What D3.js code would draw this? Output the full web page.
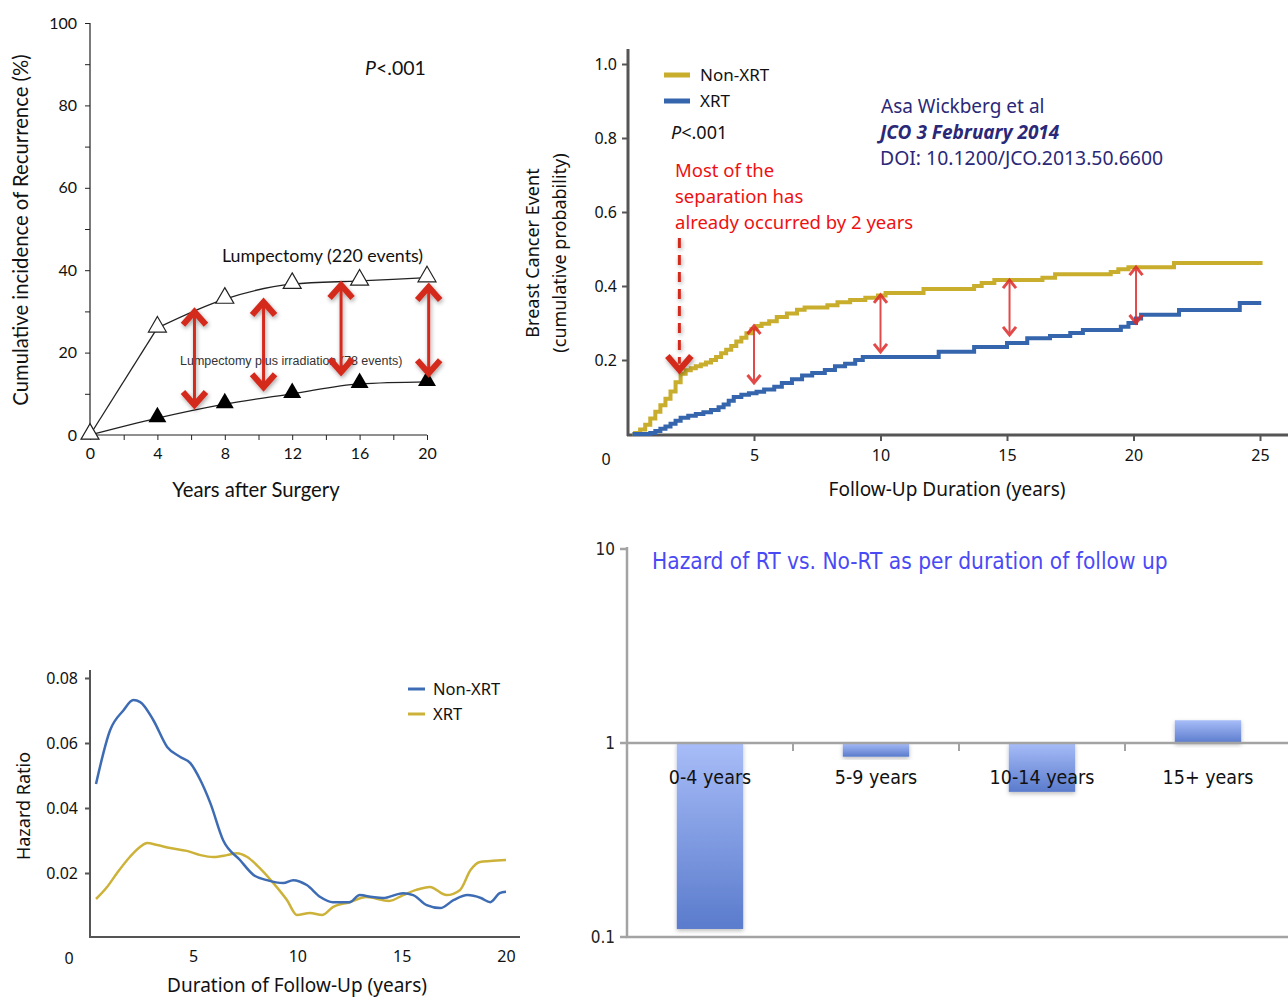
<!DOCTYPE html>
<html><head><meta charset="utf-8">
<script src="https://cdn.jsdelivr.net/npm/d3@7/dist/d3.min.js"></script>
<style>body{margin:0;background:#fff} svg{display:block}</style>
</head><body><svg id="c" width="1288" height="998"></svg>
<script>
// ---------- Panel A: cumulative incidence ----------
const yearsA = [0, 4, 8, 12, 16, 20];
const lumpectomy = [0, 26, 33, 36.6, 37.4, 38.2];
const lumpIrradiation = [0, 4.1, 7.5, 10, 12.4, 12.9];
const arrowYearsA = [6.2, 10.3, 14.9, 20.1];
const arrowTopA = [29.9, 32.3, 36.4, 35.9];
const arrowBottomA = [7.3, 11.6, 15.3, 15.0];
const yTicksA = [0, 20, 40, 60, 80, 100];
const xTicksA = [0, 4, 8, 12, 16, 20];

// ---------- Panel B: Kaplan-Meier style steps ----------
const kmNonXrtT = [0.2,0.3,0.5,0.7,0.9,1.1,1.3,1.5,1.7,1.9,2.1,2.3,2.5,2.7,2.9,3.1,3.3,3.5,3.7,3.9,4.1,4.3,4.5,4.7,4.9,5.1,5.3,5.6,5.9,6.3,6.7,7.0,7.9,8.3,8.8,9.4,9.9,10.2,11.7,13.7,14.0,14.5,16.4,16.9,19.1,19.4,19.8,21.6,25.1];
const kmNonXrtV = [0,0.003,0.012,0.025,0.042,0.06,0.078,0.095,0.115,0.14,0.163,0.172,0.178,0.183,0.188,0.193,0.2,0.208,0.218,0.228,0.238,0.25,0.26,0.272,0.283,0.292,0.298,0.305,0.316,0.326,0.336,0.342,0.348,0.356,0.362,0.368,0.374,0.381,0.392,0.4,0.408,0.416,0.422,0.432,0.438,0.445,0.451,0.462,0.462];
const kmXrtT = [0.2,0.9,1.1,1.3,1.5,1.7,1.9,2.1,2.4,2.7,3.0,3.3,3.6,3.8,4.0,4.2,4.5,4.8,5.1,5.4,5.8,6.1,6.5,6.9,7.3,7.8,8.2,8.6,9.0,9.3,12.3,13.7,15.0,15.8,16.7,17.5,18.0,19.5,19.8,20.1,20.3,21.8,24.2,25.05];
const kmXrtV = [0,0.003,0.008,0.014,0.02,0.028,0.036,0.044,0.049,0.054,0.059,0.065,0.072,0.08,0.09,0.1,0.106,0.11,0.114,0.12,0.128,0.138,0.148,0.158,0.165,0.173,0.183,0.19,0.2,0.208,0.222,0.235,0.246,0.259,0.265,0.273,0.281,0.29,0.3,0.312,0.322,0.335,0.354,0.354];
const arrowYearsB = [5, 10, 15.1, 20.1];
const arrowTopB = [0.292, 0.376, 0.416, 0.451];
const arrowBottomB = [0.138, 0.222, 0.268, 0.3];
const yTicksB = [0.2, 0.4, 0.6, 0.8, 1.0];
const xTicksB = [5, 10, 15, 20, 25];

// ---------- Panel C: hazard curves ----------
const hazNonXrtT = [0.35,1.03,1.66,2.14,2.47,3.1,3.76,4.39,4.87,5.35,5.83,6.45,7.25,7.9,8.54,9.33,9.8,10.45,11.1,11.7,12.5,12.99,13.6,14.1,15.07,15.55,16.2,16.85,17.5,18.15,18.8,19.25,19.7,20.0];
const hazNonXrtV = [0.0474,0.064,0.070,0.0732,0.0726,0.067,0.0588,0.0557,0.0538,0.0486,0.0415,0.030,0.024,0.0194,0.0178,0.0169,0.0178,0.0163,0.0126,0.011,0.011,0.0132,0.0126,0.0123,0.0138,0.0132,0.0101,0.0092,0.0117,0.0132,0.0123,0.011,0.0138,0.0142];
const hazXrtT = [0.35,0.88,1.36,1.98,2.46,2.8,3.28,3.9,4.7,5.35,5.98,6.63,7.1,7.58,8.2,8.85,9.5,9.98,10.6,11.2,11.7,12.5,13.3,14.4,15.07,15.7,16.35,17.15,17.8,18.3,18.75,19.25,20.0];
const hazXrtV = [0.012,0.0157,0.020,0.025,0.028,0.0292,0.0286,0.0277,0.0268,0.0255,0.0249,0.0255,0.0261,0.025,0.0215,0.0169,0.0117,0.0071,0.0077,0.0071,0.0095,0.011,0.0126,0.0114,0.0132,0.0148,0.0157,0.0132,0.0148,0.0209,0.0234,0.0237,0.024];
const yTicksC = [0.02, 0.04, 0.06, 0.08];
const xTicksC = [5, 10, 15, 20];

// ---------- Panel D: hazard ratio bars ----------
const categoriesD = ["0-4 years", "5-9 years", "10-14 years", "15+ years"];
const hazardRatioD = [0.11, 0.85, 0.56, 1.31];
const yTicksD = [0.1, 1, 10];

const svg = d3.select("#c");
const defs = svg.append("defs");
const sh = defs.append("filter").attr("id","shadow").attr("x","-50%").attr("y","-50%").attr("width","200%").attr("height","200%");
sh.append("feDropShadow").attr("dx",1).attr("dy",2).attr("stdDeviation",2).attr("flood-color","#000").attr("flood-opacity",0.35);
const barSh = defs.append("filter").attr("id","barshadow").attr("x","-20%").attr("y","-20%").attr("width","140%").attr("height","140%");
barSh.append("feDropShadow").attr("dx",0).attr("dy",2).attr("stdDeviation",2).attr("flood-color","#000").attr("flood-opacity",0.25);
const grad = defs.append("linearGradient").attr("id","barGrad").attr("x1",0).attr("y1",0).attr("x2",0).attr("y2",1);
grad.append("stop").attr("offset","0%").attr("stop-color","#a8bdf8");
grad.append("stop").attr("offset","100%").attr("stop-color","#5a7bcc");
defs.append("clipPath").attr("id","clipA").append("rect").attr("x",0).attr("y",0).attr("width",414).attr("height",998);

function chevrons(g, x, y1, y2, w, h, color, lw, hw) {
  g.append("line").attr("x1",x).attr("x2",x).attr("y1",y1+2).attr("y2",y2-2)
    .attr("stroke",color).attr("stroke-width",lw);
  g.append("polyline").attr("points",[[x-w,y1+h],[x,y1],[x+w,y1+h]].join(" "))
    .attr("fill","none").attr("stroke",color).attr("stroke-width",hw).attr("stroke-linejoin","miter");
  g.append("polyline").attr("points",[[x-w,y2-h],[x,y2],[x+w,y2-h]].join(" "))
    .attr("fill","none").attr("stroke",color).attr("stroke-width",hw).attr("stroke-linejoin","miter");
}

// ================= PANEL A =================
{
  const fA = "Lato, 'Open Sans', sans-serif";
  const xA = d3.scaleLinear().domain([0,20]).range([90,427]);
  const yA = d3.scaleLinear().domain([0,100]).range([435,23]);
  const g = svg.append("g");
  const ay = g.append("g").attr("transform","translate(90,0)")
    .call(d3.axisLeft(yA).tickValues(d3.range(0,101,10)).tickSize(5).tickPadding(8)
      .tickFormat(d => yTicksA.includes(d) ? d : ""));
  const ax = g.append("g").attr("transform","translate(0,435)")
    .call(d3.axisBottom(xA).tickValues(d3.range(0,21,2)).tickSize(5).tickPadding(8)
      .tickFormat(d => xTicksA.includes(d) ? d : ""));
  [ay, ax].forEach(a => {
    a.selectAll("path.domain").attr("stroke","#222").attr("stroke-width",1.2);
    a.selectAll("line").attr("stroke","#222");
    a.selectAll("text").attr("font-family",fA).attr("font-size",16).attr("fill","#111");
  });
  ay.select("path.domain").attr("d","M0,23V435");
  ax.select("path.domain").attr("d","M90,0H427");

  g.append("text").attr("transform","translate(28,230) rotate(-90)").attr("text-anchor","middle")
    .attr("font-family",fA).attr("font-size",20.3).attr("fill","#111").text("Cumulative incidence of Recurrence (%)");
  g.append("text").attr("x",256).attr("y",497).attr("text-anchor","middle")
    .attr("font-family",fA).attr("font-size",20.3).attr("fill","#111").text("Years after Surgery");
  const p = g.append("text").attr("x",365).attr("y",75).attr("font-family",fA).attr("font-size",19.5).attr("fill","#111");
  p.append("tspan").attr("font-style","italic").text("P");
  p.append("tspan").text("<.001");

  const pts = arr => arr.map((d,i) => [xA(yearsA[i]), yA(d)]);
  const lin = d3.line();
  const smooth = d3.line().curve(d3.curveMonotoneX);
  const lp = pts(lumpectomy);
  g.append("path").attr("d",lin(lp.slice(0,2))).attr("fill","none").attr("stroke","#222").attr("stroke-width",1.3);
  g.append("path").attr("d",smooth(lp.slice(1))).attr("fill","none").attr("stroke","#222").attr("stroke-width",1.3);
  g.append("path").attr("d",smooth(pts(lumpIrradiation))).attr("fill","none").attr("stroke","#222").attr("stroke-width",1.3);
  const tri = d3.symbol().type(d3.symbolTriangle).size(140);
  g.selectAll(".ft").data(lumpIrradiation).join("path")
    .attr("transform",(d,i)=>`translate(${xA(yearsA[i])},${yA(d)-1})`).attr("d",tri).attr("fill","#000");
  g.selectAll(".ot").data(lumpectomy).join("path")
    .attr("transform",(d,i)=>`translate(${xA(yearsA[i])},${yA(d)-1})`).attr("d",tri)
    .attr("fill","#fff").attr("stroke","#222").attr("stroke-width",1.2);

  g.append("text").attr("x",222).attr("y",262).attr("font-family",fA).attr("font-size",17.8).attr("fill","#111")
    .text("Lumpectomy (220 events)");
  g.append("text").attr("x",180).attr("y",365).attr("clip-path","url(#clipA)")
    .attr("font-family","'Liberation Sans', Arial, sans-serif").attr("font-size",12.5).attr("fill","#333")
    .text("Lumpectomy plus irradiation (78 events)");

  const arr = g.append("g").attr("filter","url(#shadow)");
  arrowYearsA.forEach((yr,i) => {
    const ag = arr.append("g");
    chevrons(ag, xA(yr), yA(arrowTopA[i]), yA(arrowBottomA[i]), 11.5, 13, "#d42a1f", 3, 6);
  });
}

// ================= PANEL B =================
{
  const fB = "'Noto Sans', 'Open Sans', sans-serif";
  const xB = d3.scaleLinear().domain([0,25]).range([627.5,1260]);
  const yB = d3.scaleLinear().domain([0,1]).range([434,64]);
  const g = svg.append("g");
  const ay = g.append("g").attr("transform","translate(628,0)")
    .call(d3.axisLeft(yB).tickValues(yTicksB).tickSize(6).tickPadding(5).tickFormat(d3.format(".1f")));
  const ax = g.append("g").attr("transform","translate(0,435)")
    .call(d3.axisBottom(xB).tickValues(xTicksB).tickSize(6).tickPadding(9));
  [ay, ax].forEach(a => {
    a.selectAll("path.domain").remove();
    a.selectAll("line").attr("stroke","#555").attr("stroke-width",2);
    a.selectAll("text").attr("font-family",fB).attr("font-size",16).attr("fill","#111");
  });
  g.append("line").attr("x1",628).attr("x2",628).attr("y1",49).attr("y2",436).attr("stroke","#555").attr("stroke-width",3);
  g.append("line").attr("x1",627).attr("x2",1288).attr("y1",435).attr("y2",435).attr("stroke","#555").attr("stroke-width",3);
  g.append("text").attr("x",606).attr("y",465).attr("text-anchor","middle").attr("font-family",fB).attr("font-size",16).attr("fill","#111").text("0");

  g.append("text").attr("transform","translate(539,253) rotate(-90)").attr("text-anchor","middle")
    .attr("font-family",fB).attr("font-size",18).attr("fill","#111").text("Breast Cancer Event");
  g.append("text").attr("transform","translate(566,253) rotate(-90)").attr("text-anchor","middle")
    .attr("font-family",fB).attr("font-size",18).attr("fill","#111").text("(cumulative probability)");
  g.append("text").attr("x",947).attr("y",496).attr("text-anchor","middle")
    .attr("font-family",fB).attr("font-size",19).attr("fill","#111").text("Follow-Up Duration (years)");

  const step = d3.line().curve(d3.curveStepAfter);
  const gold = "#c9ad2c", blue = "#3465ad";
  g.append("path").attr("d",step(kmNonXrtT.map((t,i)=>[xB(t),yB(kmNonXrtV[i])])))
    .attr("fill","none").attr("stroke",gold).attr("stroke-width",4);
  g.append("path").attr("d",step(kmXrtT.map((t,i)=>[xB(t),yB(kmXrtV[i])])))
    .attr("fill","none").attr("stroke",blue).attr("stroke-width",4);

  [["Non-XRT",gold,75],["XRT",blue,101]].forEach(([lab,c,y]) => {
    g.append("line").attr("x1",664).attr("x2",690).attr("y1",y).attr("y2",y).attr("stroke",c).attr("stroke-width",5);
    g.append("text").attr("x",700).attr("y",y+6).attr("font-family",fB).attr("font-size",17).attr("fill","#111").text(lab);
  });
  const p = g.append("text").attr("x",671).attr("y",139).attr("font-family",fB).attr("font-size",18).attr("fill","#111");
  p.append("tspan").attr("font-style","italic").text("P");
  p.append("tspan").text("<.001");

  ["Most of the","separation has","already occurred by 2 years"].forEach((t,i) => {
    g.append("text").attr("x",675).attr("y",177+i*26).attr("font-family",fB).attr("font-size",18.5).attr("fill","#ee1111").text(t);
  });
  const navy = "#2b2878";
  g.append("text").attr("x",881).attr("y",113).attr("font-family",fB).attr("font-size",19).attr("fill",navy).text("Asa Wickberg et al");
  g.append("text").attr("x",880).attr("y",139).attr("font-family",fB).attr("font-size",19).attr("font-weight","bold").attr("font-style","italic").attr("fill",navy).text("JCO 3 February 2014");
  g.append("text").attr("x",880).attr("y",165).attr("font-family",fB).attr("font-size",19.4).attr("fill",navy).text("DOI: 10.1200/JCO.2013.50.6600");

  arrowYearsB.forEach((yr,i) => {
    chevrons(g.append("g").attr("opacity",0.85), xB(yr), yB(arrowTopB[i]), yB(arrowBottomB[i]), 6.5, 8, "#dd2a2a", 2, 3);
  });
  const dx = xB(2.05);
  const da = g.append("g").attr("filter","url(#shadow)");
  da.append("line").attr("x1",dx).attr("x2",dx).attr("y1",yB(0.53)).attr("y2",yB(0.19))
    .attr("stroke","#d42a1f").attr("stroke-width",3).attr("stroke-dasharray","10,7");
  da.append("polyline").attr("points",[[dx-12,yB(0.173)-14],[dx,yB(0.173)],[dx+12,yB(0.173)-14]].join(" "))
    .attr("fill","none").attr("stroke","#d42a1f").attr("stroke-width",6);
}

// ================= PANEL C =================
{
  const fC = "'Noto Sans', 'Open Sans', sans-serif";
  const xC = d3.scaleLinear().domain([0,20]).range([88.7,506]);
  const yC = d3.scaleLinear().domain([0,0.08]).range([938,678]);
  const g = svg.append("g");
  const ay = g.append("g").attr("transform","translate(90,0)")
    .call(d3.axisLeft(yC).tickValues(yTicksC).tickSize(5).tickPadding(7).tickFormat(d3.format(".2f")));
  const ax = g.append("g").attr("transform","translate(0,937)")
    .call(d3.axisBottom(xC).tickValues(xTicksC).tickSize(0).tickPadding(14));
  [ay, ax].forEach(a => {
    a.selectAll("path.domain").remove();
    a.selectAll("line").attr("stroke","#555").attr("stroke-width",2);
    a.selectAll("text").attr("font-family",fC).attr("font-size",16).attr("fill","#111");
  });
  g.append("line").attr("x1",90).attr("x2",90).attr("y1",670).attr("y2",938).attr("stroke","#555").attr("stroke-width",2);
  g.append("line").attr("x1",89).attr("x2",520).attr("y1",937).attr("y2",937).attr("stroke","#555").attr("stroke-width",2);
  g.append("text").attr("x",69).attr("y",964).attr("text-anchor","middle").attr("font-family",fC).attr("font-size",16).attr("fill","#111").text("0");
  g.append("text").attr("transform","translate(30,806) rotate(-90)").attr("text-anchor","middle")
    .attr("font-family",fC).attr("font-size",18).attr("fill","#111").text("Hazard Ratio");
  g.append("text").attr("x",297).attr("y",992).attr("text-anchor","middle")
    .attr("font-family",fC).attr("font-size",19).attr("fill","#111").text("Duration of Follow-Up (years)");

  const blue = "#3d6cb4", gold = "#cdb23a";
  const ln = d3.line().curve(d3.curveMonotoneX);
  g.append("path").attr("d",ln(hazXrtT.map((t,i)=>[xC(t),yC(hazXrtV[i])]))).attr("fill","none").attr("stroke",gold).attr("stroke-width",2.5);
  g.append("path").attr("d",ln(hazNonXrtT.map((t,i)=>[xC(t),yC(hazNonXrtV[i])]))).attr("fill","none").attr("stroke",blue).attr("stroke-width",2.5);
  [["Non-XRT",blue,689],["XRT",gold,714]].forEach(([lab,c,y]) => {
    g.append("line").attr("x1",408).attr("x2",425).attr("y1",y).attr("y2",y).attr("stroke",c).attr("stroke-width",3);
    g.append("text").attr("x",433).attr("y",y+6).attr("font-family",fC).attr("font-size",16.5).attr("fill","#111").text(lab);
  });
}

// ================= PANEL D =================
{
  const fD = "'Liberation Sans Narrow', 'DejaVu Sans Condensed', 'Noto Sans', sans-serif";
  const xD = d3.scaleBand().domain(categoriesD).range([627,1291]).paddingInner(0.6).paddingOuter(0.3);
  const yD = d3.scaleLog().domain([0.1,10]).range([937,549]);
  const g = svg.append("g");
  const axC = "#a3a3a3";
  g.append("line").attr("x1",627).attr("x2",627).attr("y1",547).attr("y2",938).attr("stroke",axC).attr("stroke-width",2.5);
  g.append("line").attr("x1",626).attr("x2",1288).attr("y1",937).attr("y2",937).attr("stroke",axC).attr("stroke-width",2.5);
  yTicksD.forEach(v => {
    g.append("line").attr("x1",620).attr("x2",627).attr("y1",yD(v)).attr("y2",yD(v)).attr("stroke",axC).attr("stroke-width",2.5);
    g.append("text").attr("x",615).attr("y",yD(v)+6).attr("text-anchor","end").attr("font-family",fD)
      .attr("font-size",17).attr("fill","#222").text(v);
  });
  g.selectAll(".bar").data(hazardRatioD).join("rect")
    .attr("x",(d,i)=>xD(categoriesD[i])).attr("width",xD.bandwidth())
    .attr("y",d=>Math.min(yD(d),yD(1))).attr("height",d=>Math.abs(yD(d)-yD(1)))
    .attr("fill","url(#barGrad)").attr("filter","url(#barshadow)");
  g.append("line").attr("x1",627).attr("x2",1288).attr("y1",yD(1)).attr("y2",yD(1)).attr("stroke",axC).attr("stroke-width",2.5);
  const step = xD.step();
  categoriesD.slice(1).forEach(c => {
    const bx = xD(c) - (step - xD.bandwidth())/2;
    g.append("line").attr("x1",bx).attr("x2",bx).attr("y1",yD(1)).attr("y2",yD(1)+8).attr("stroke",axC).attr("stroke-width",2);
  });
  categoriesD.forEach(c => {
    g.append("text").attr("x",xD(c)+xD.bandwidth()/2).attr("y",784).attr("text-anchor","middle")
      .attr("font-family",fD).attr("font-size",19.5).attr("fill","#111").text(c);
  });
  g.append("text").attr("x",652).attr("y",569).attr("font-family",fD)
    .attr("font-size",22.5).attr("fill","#4a4af5").text("Hazard of RT vs. No-RT as per duration of follow up");
}
</script></body></html>
